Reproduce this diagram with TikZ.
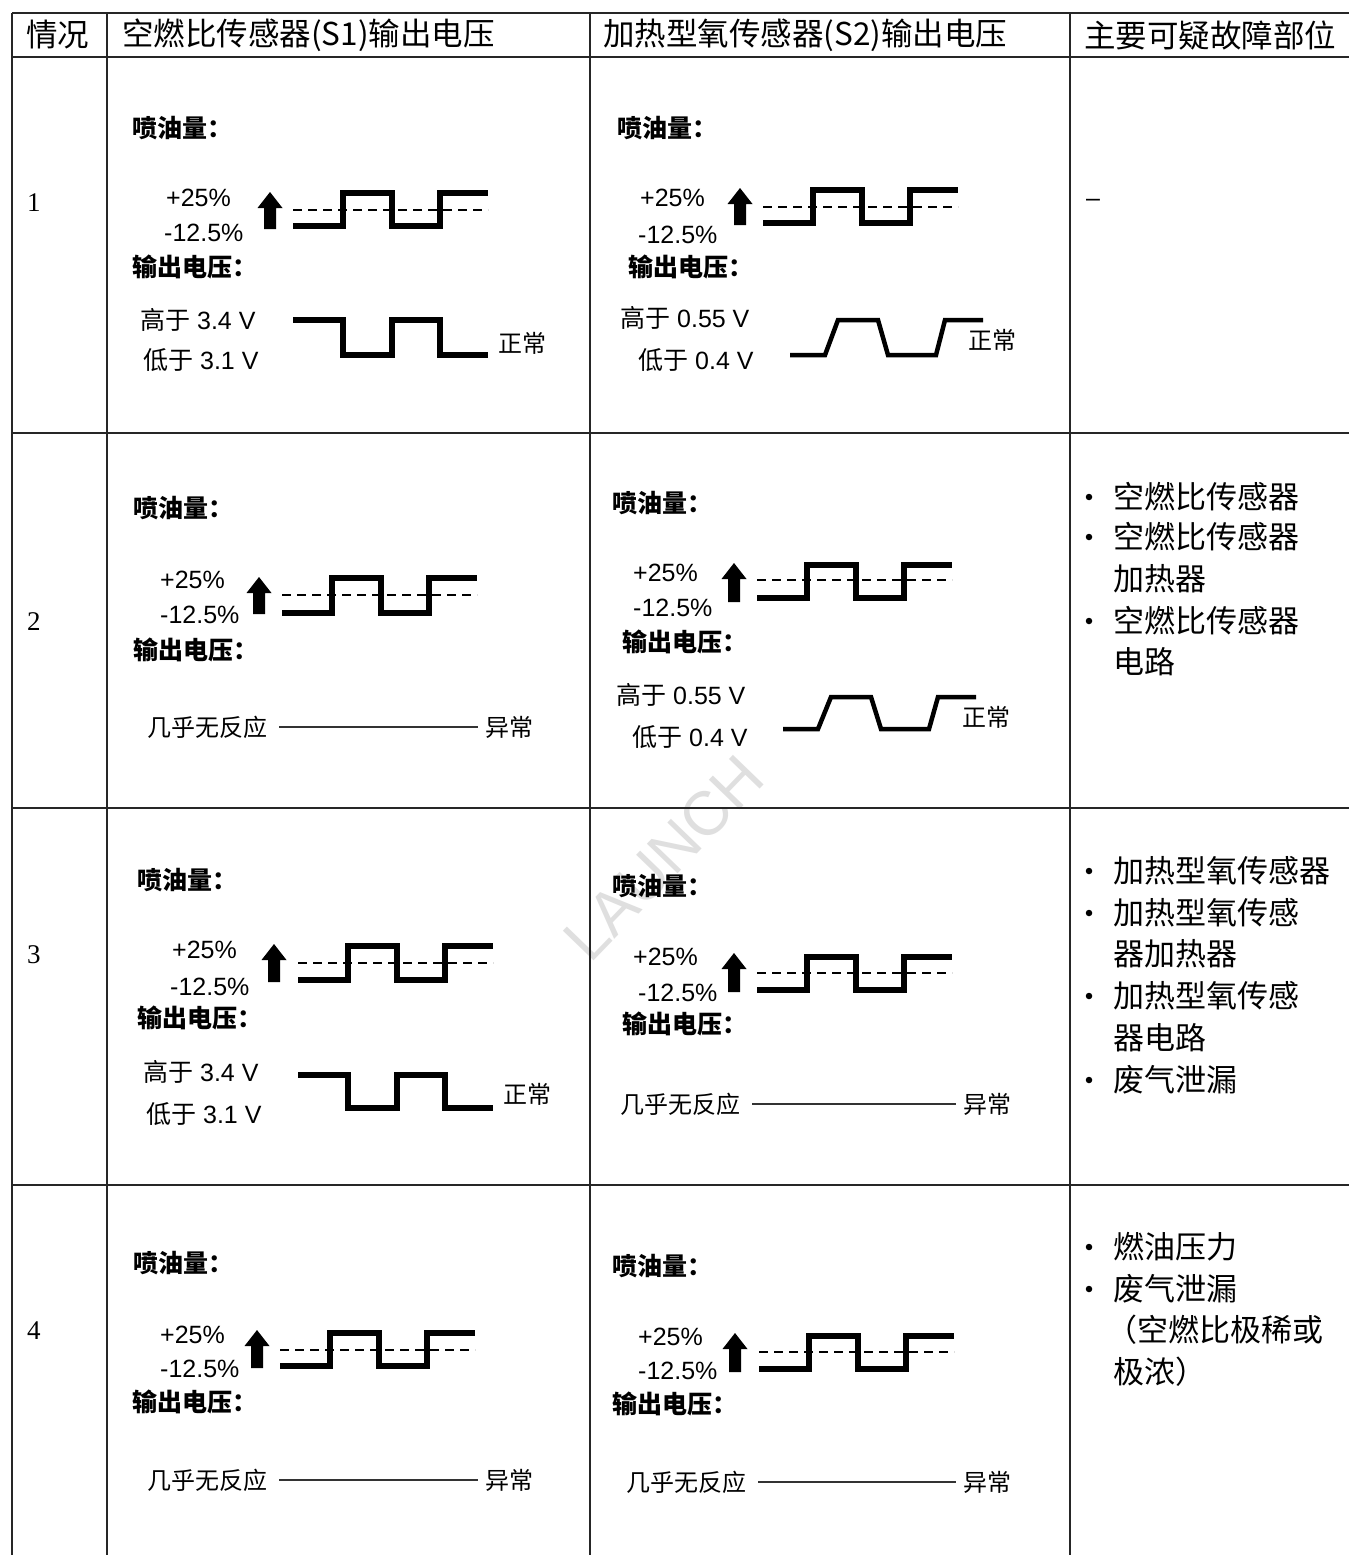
\documentclass[tikz,border=0pt]{standalone}
\usepackage{fontspec}
\setmainfont{Liberation Sans}
\newfontfamily\cjk{Noto Sans CJK SC}
\newfontfamily\numfont{Liberation Serif}

\tikzset{
  tbl/.style={line width=2pt, black!85},
  tblthick/.style={line width=2.6pt, black!85},
  txt/.style={anchor=west, inner sep=0pt, font=\fontsize{25}{30}\selectfont},
  boldlbl/.style={anchor=west, inner sep=0pt, font=\cjk\bfseries\fontsize{25}{30}\selectfont},
  hdr/.style={anchor=west, inner sep=0pt, font=\cjk\fontsize{31.5}{36}\selectfont},
  item/.style={anchor=west, inner sep=0pt, font=\cjk\fontsize{31}{36}\selectfont},
  bul/.style={circle, fill=black, inner sep=0pt, minimum size=6.5pt},
  rownum/.style={anchor=west, inner sep=0pt, font=\numfont\fontsize{27}{30}\selectfont},
  wave/.style={line width=6pt, line join=miter, line cap=butt},
  trap/.style={line width=4.5pt, line join=miter, line cap=butt},
  midline/.style={line width=1.8pt, dash pattern=on 9pt off 6pt},
  flat/.style={line width=2pt, black!80}
}

% injection waveform with dashed centre line
\newcommand\InjWave[4]{% x0, yhigh, ylow, ydash
  \draw[midline] (#1,#4) -- ({#1+195},#4);
  \draw[wave] (#1,#3) -- ({#1+50},#3) -- ({#1+50},#2) -- ({#1+99},#2) -- ({#1+99},#3)
     -- ({#1+147},#3) -- ({#1+147},#2) -- ({#1+195},#2);
}
% filled up arrow
\newcommand\UpArr[3]{% cx, ytop, ybot
  \fill ({#1},#2) -- ({#1+12.5},{#2+16}) -- ({#1+6},{#2+16}) -- ({#1+6},#3) -- ({#1-6},#3)
     -- ({#1-6},{#2+16}) -- ({#1-12.5},{#2+16}) -- cycle;
}
% square voltage wave (high first)
\newcommand\SqVolt[3]{% x0, yhigh, ylow
  \draw[wave] (#1,#2) -- ({#1+50},#2) -- ({#1+50},#3) -- ({#1+99},#3) -- ({#1+99},#2)
     -- ({#1+147},#2) -- ({#1+147},#3) -- ({#1+195},#3);
}
% trapezoid voltage wave (low first)
\newcommand\TrapVolt[3]{% x0, yhigh, ylow
  \draw[trap] (#1,#3) -- ({#1+35},#3) -- ({#1+48},#2) -- ({#1+88},#2) -- ({#1+98},#3)
     -- ({#1+146},#3) -- ({#1+155},#2) -- ({#1+193},#2);
}

\begin{document}
\begin{tikzpicture}[x=1pt, y=-1pt]
\useasboundingbox (0,0) rectangle (1349,1555);
\fill[white] (0,0) rectangle (1349,1555);

% watermark
\node[rotate=46, text=gray!25, font=\fontsize{62}{64}\selectfont, inner sep=0pt] (wm) at (664,858) {LAUNCH};

% table grid
\draw[tblthick] (12,13) -- (1349,13);
\draw[tblthick] (12,57) -- (1349,57);
\draw[tbl] (12,433) -- (1349,433);
\draw[tbl] (12,808) -- (1349,808);
\draw[tbl] (12,1185) -- (1349,1185);
\foreach \xx in {12,107,590,1070} \draw[tbl] (\xx,13) -- (\xx,1555);

% header
\node[hdr] (h1) at (26,35) {情况};
\node[hdr] (h2) at (122,35) {空燃比传感器(S1)输出电压};
\node[hdr] (h3) at (603,35) {加热型氧传感器(S2)输出电压};
\node[hdr] (h4) at (1084,35) {主要可疑故障部位};

% row numbers
\node[rownum] (n1) at (27,203) {1};
\node[rownum] (n2) at (27,622) {2};
\node[rownum] (n3) at (27,955) {3};
\node[rownum] (n4) at (27,1331) {4};

% ---------------- Row 1 ----------------
\node[boldlbl] (a1q) at (132,128) {喷油量：};
\node[txt] (a1p) at (166,198) {+25\%};
\node[txt] (a1m) at (164,233) {-12.5\%};
\UpArr{270}{192}{229}
\InjWave{293}{193}{226}{210}
\node[boldlbl] (a1o) at (132,267) {输出电压：};
\node[txt] (a1h) at (140,320) {{\cjk 高于} 3.4 V};
\node[txt] (a1l) at (143,360) {{\cjk 低于} 3.1 V};
\SqVolt{293}{320}{355}
\node[txt, font=\cjk\fontsize{24}{28}\selectfont] (a1s) at (498,343) {正常};

\node[boldlbl] (b1q) at (617,128) {喷油量：};
\node[txt] (b1p) at (640,198) {+25\%};
\node[txt] (b1m) at (638,235) {-12.5\%};
\UpArr{740}{188}{225}
\InjWave{763}{190}{223}{207}
\node[boldlbl] (b1o) at (628,267) {输出电压：};
\node[txt] (b1h) at (620,318) {{\cjk 高于} 0.55 V};
\node[txt] (b1l) at (638,360) {{\cjk 低于} 0.4 V};
\TrapVolt{790}{320}{355}
\node[txt, font=\cjk\fontsize{24}{28}\selectfont] (b1s) at (968,340) {正常};

\node[txt] (c1) at (1086,203) {–};

% ---------------- Row 2 ----------------
\node[boldlbl] (a2q) at (133,508) {喷油量：};
\node[txt] (a2p) at (160,580) {+25\%};
\node[txt] (a2m) at (160,615) {-12.5\%};
\UpArr{259}{577}{614}
\InjWave{282}{578}{613}{595}
\node[boldlbl] (a2o) at (133,650) {输出电压：};
\node[txt, font=\cjk\fontsize{24}{28}\selectfont] (a2n) at (147,727) {几乎无反应};
\node[txt, font=\cjk\fontsize{24}{28}\selectfont] (a2s) at (485,727) {异常};
\draw[flat] ([xshift=12pt]a2n.east) -- ([xshift=-7pt]a2s.west);

\node[boldlbl] (b2q) at (612,503) {喷油量：};
\node[txt] (b2p) at (633,573) {+25\%};
\node[txt] (b2m) at (633,608) {-12.5\%};
\UpArr{734}{563}{602}
\InjWave{757}{565}{598}{580}
\node[boldlbl] (b2o) at (622,642) {输出电压：};
\node[txt] (b2h) at (616,695) {{\cjk 高于} 0.55 V};
\node[txt] (b2l) at (632,737) {{\cjk 低于} 0.4 V};
\TrapVolt{783}{697}{729}
\node[txt, font=\cjk\fontsize{24}{28}\selectfont] (b2s) at (962,717) {正常};

\node[bul] (c2b1) at (1089,497) {};
\node[item] (c2t1) at (1113,497) {空燃比传感器};
\node[bul] (c2b2) at (1089,537) {};
\node[item] (c2t2) at (1113,537) {空燃比传感器};
\node[item] (c2t3) at (1113,579) {加热器};
\node[bul] (c2b3) at (1089,621) {};
\node[item] (c2t4) at (1113,621) {空燃比传感器};
\node[item] (c2t5) at (1113,662) {电路};

% ---------------- Row 3 ----------------
\node[boldlbl] (a3q) at (137,880) {喷油量：};
\node[txt] (a3p) at (172,950) {+25\%};
\node[txt] (a3m) at (170,987) {-12.5\%};
\UpArr{274}{944}{982}
\InjWave{298}{946}{980}{963}
\node[boldlbl] (a3o) at (137,1018) {输出电压：};
\node[txt] (a3h) at (143,1072) {{\cjk 高于} 3.4 V};
\node[txt] (a3l) at (146,1114) {{\cjk 低于} 3.1 V};
\SqVolt{298}{1075}{1108}
\node[txt, font=\cjk\fontsize{24}{28}\selectfont] (a3s) at (503,1094) {正常};

\node[boldlbl] (b3q) at (612,886) {喷油量：};
\node[txt] (b3p) at (633,957) {+25\%};
\node[txt] (b3m) at (638,993) {-12.5\%};
\UpArr{734}{953}{992}
\InjWave{757}{957}{990}{973}
\node[boldlbl] (b3o) at (622,1024) {输出电压：};
\node[txt, font=\cjk\fontsize{24}{28}\selectfont] (b3n) at (620,1104) {几乎无反应};
\node[txt, font=\cjk\fontsize{24}{28}\selectfont] (b3s) at (963,1104) {异常};
\draw[flat] ([xshift=12pt]b3n.east) -- ([xshift=-7pt]b3s.west);

\node[bul] (c3b1) at (1089,871) {};
\node[item] (c3t1) at (1113,871) {加热型氧传感器};
\node[bul] (c3b2) at (1089,913) {};
\node[item] (c3t2) at (1113,913) {加热型氧传感};
\node[item] (c3t3) at (1113,954) {器加热器};
\node[bul] (c3b3) at (1089,996) {};
\node[item] (c3t4) at (1113,996) {加热型氧传感};
\node[item] (c3t5) at (1113,1038) {器电路};
\node[bul] (c3b4) at (1089,1080) {};
\node[item] (c3t6) at (1113,1080) {废气泄漏};

% ---------------- Row 4 ----------------
\node[boldlbl] (a4q) at (133,1263) {喷油量：};
\node[txt] (a4p) at (160,1335) {+25\%};
\node[txt] (a4m) at (160,1369) {-12.5\%};
\UpArr{257}{1330}{1368}
\InjWave{280}{1333}{1366}{1350}
\node[boldlbl] (a4o) at (132,1402) {输出电压：};
\node[txt, font=\cjk\fontsize{24}{28}\selectfont] (a4n) at (147,1480) {几乎无反应};
\node[txt, font=\cjk\fontsize{24}{28}\selectfont] (a4s) at (485,1480) {异常};
\draw[flat] ([xshift=12pt]a4n.east) -- ([xshift=-7pt]a4s.west);

\node[boldlbl] (b4q) at (612,1266) {喷油量：};
\node[txt] (b4p) at (638,1337) {+25\%};
\node[txt] (b4m) at (638,1371) {-12.5\%};
\UpArr{735}{1333}{1372}
\InjWave{759}{1336}{1369}{1352}
\node[boldlbl] (b4o) at (612,1404) {输出电压：};
\node[txt, font=\cjk\fontsize{24}{28}\selectfont] (b4n) at (626,1482) {几乎无反应};
\node[txt, font=\cjk\fontsize{24}{28}\selectfont] (b4s) at (963,1482) {异常};
\draw[flat] ([xshift=12pt]b4n.east) -- ([xshift=-7pt]b4s.west);

\node[bul] (c4b1) at (1089,1247) {};
\node[item] (c4t1) at (1113,1247) {燃油压力};
\node[bul] (c4b2) at (1089,1289) {};
\node[item] (c4t2) at (1113,1289) {废气泄漏};
\node[item] (c4t3) at (1106,1330) {（空燃比极稀或};
\node[item] (c4t4) at (1113,1372) {极浓）};
\end{tikzpicture}
\end{document}
